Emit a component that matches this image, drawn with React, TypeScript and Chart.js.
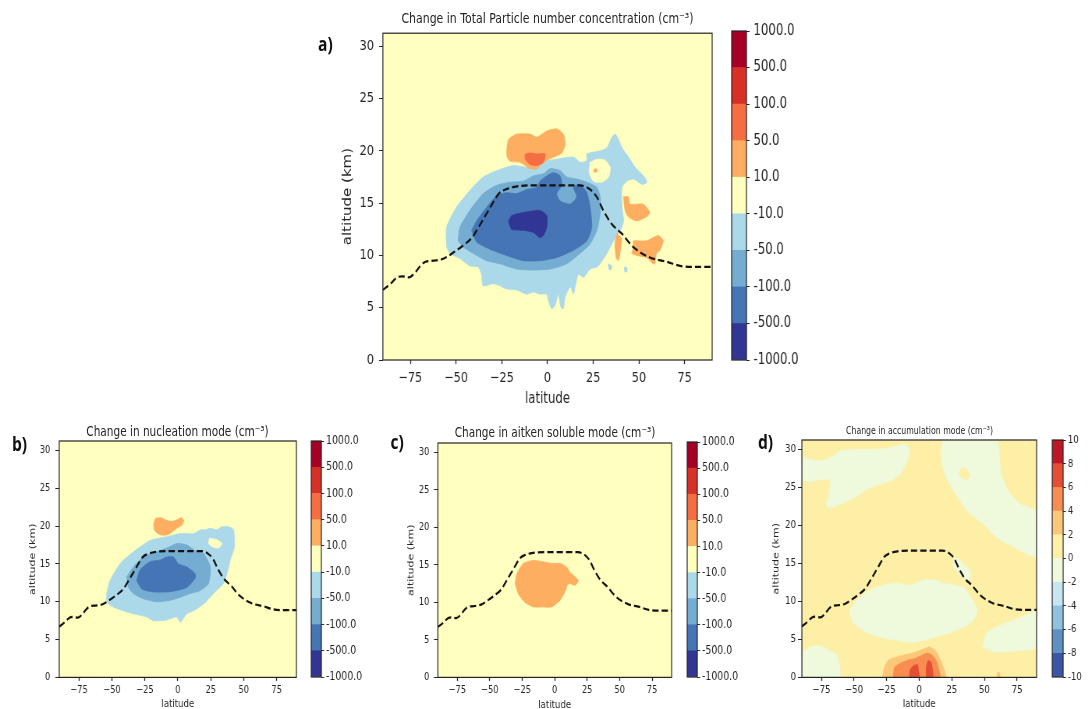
import React, { useEffect, useRef } from 'react';
import { Chart, registerables } from 'chart.js';

Chart.register(...registerables);

// horizontal compression of the whole figure (the reference is squeezed sideways)
const S = 0.78;
const X = (v: number) => v / S;
const FONT = '"DejaVu Sans", Verdana, sans-serif';
const TXT = '#262626';

// ---------------- axes ----------------
const LAT_MIN = -90;
const LAT_MAX = 90;
const ALT_MIN = 0;
const ALT_MAX = 31.25;
const LAT_TICKS = [-75, -50, -25, 0, 25, 50, 75];
const ALT_TICKS = [0, 5, 10, 15, 20, 25, 30];

// ---------------- colour levels ----------------
const NUM_LEVEL_LABELS = ['-1000.0', '-500.0', '-100.0', '-50.0', '-10.0', '10.0', '50.0', '100.0', '500.0', '1000.0'];
const NUM_COLORS = ['#313695', '#4575b4', '#74add1', '#abd9e9', '#ffffbf', '#fdae61', '#f46d43', '#d73027', '#a50026'];
const ACC_LEVEL_LABELS = ['-10', '-8', '-6', '-4', '-2', '0', '2', '4', '6', '8', '10'];
const ACC_COLORS = ['#3b56a5', '#5d91c3', '#8fc3dd', '#c5e6f0', '#eff9db', '#feefa7', '#fdc778', '#f88d52', '#e54e35', '#be1826'];

type Pt = [number, number];

// ---------------- tropopause (lat, km) ----------------
const TROPOPAUSE: Pt[] = [[-90, 6.7], [-85.8, 7.3], [-82.2, 7.9], [-79.5, 8.0], [-75.8, 7.9], [-72.2, 8.4], [-69.5, 9.0], [-66.7, 9.4], [-62.2, 9.5], [-56.7, 9.7], [-51.3, 10.3], [-45.8, 11.0], [-41.3, 11.7], [-36.7, 13.0], [-31.3, 14.6], [-26.7, 15.9], [-23.1, 16.3], [-16.7, 16.6], [-7.6, 16.7], [1.5, 16.7], [10.5, 16.7], [17.8, 16.7], [23.3, 16.3], [26.9, 15.6], [30.5, 14.3], [35.1, 13.0], [40.5, 12.1], [46.9, 10.8], [56.0, 9.8], [65.1, 9.4], [72.4, 9.0], [79.6, 8.9], [90, 8.9]];

// ---------------- panel a: total particle number ----------------
const A_LB: Pt[] = [[-55.2, 10.8], [-55.2, 12.7], [-49.8, 14.6], [-42.5, 16.2], [-35.2, 17.5], [-27.8, 18.1], [-18.7, 18.6], [-9.6, 18.4], [-4.1, 18.9], [5.0, 19.2], [14.2, 19.4], [17.8, 18.9], [21.5, 19.05], [21.5, 19.7], [28.8, 20.0], [32.5, 20.3], [35.2, 21.3], [37.0, 21.6], [38.8, 21.1], [40.7, 20.3], [44.3, 19.4], [48.0, 18.4], [52.5, 17.6], [54.4, 17.0], [51.6, 16.8], [47.1, 17.3], [43.4, 17.1], [40.7, 16.5], [40.7, 14.6], [41.6, 13.3], [39.8, 12.4], [36.1, 11.4], [32.5, 10.2], [28.8, 9.2], [27.0, 8.9], [23.3, 8.7], [19.7, 7.9], [16.9, 8.2], [15.1, 7.0], [14.2, 6.3], [12.4, 7.0], [9.6, 6.0], [8.7, 4.9], [7.2, 5.1], [5.9, 6.3], [4.1, 5.2], [2.3, 4.9], [0.5, 5.7], [-0.4, 6.3], [-4.1, 6.3], [-7.7, 6.5], [-11.4, 6.3], [-16.9, 6.7], [-22.4, 6.8], [-26.0, 7.1], [-29.7, 7.3], [-35.2, 7.1], [-36.1, 8.2], [-37.9, 8.9], [-42.5, 9.0], [-47.9, 9.7], [-53.4, 10.2]];
const A_LB_SPECK1: Pt[] = [[33.3, 9.2], [35.1, 9.0], [34.6, 8.6], [33.5, 8.7]];
const A_LB_SPECK2: Pt[] = [[42.0, 8.9], [43.6, 8.8], [43.2, 8.4], [42.1, 8.5]];
const A_HOLE: Pt[] = [[23.3, 18.9], [27.0, 19.2], [31.5, 19.1], [34.3, 18.4], [33.4, 17.5], [29.7, 17.0], [25.1, 17.1], [22.8, 17.9]];
const A_DOT: Pt[] = [[25.3, 18.2], [26.5, 18.3], [27.3, 18.1], [26.3, 17.95], [25.3, 18.0]];
const A_MB: Pt[] = [[-48.9, 11.4], [-47.9, 12.7], [-42.5, 14.3], [-35.2, 15.9], [-27.8, 16.7], [-20.5, 17.0], [-13.2, 17.1], [-7.7, 17.6], [-2.3, 17.8], [1.4, 18.3], [6.9, 18.1], [10.5, 17.5], [16.0, 17.3], [21.5, 17.0], [27.0, 16.5], [28.8, 15.6], [28.8, 14.0], [27.0, 12.4], [23.3, 11.1], [17.8, 10.2], [10.5, 9.2], [1.4, 8.7], [-7.7, 8.6], [-16.9, 8.7], [-26.0, 9.2], [-33.3, 9.5], [-40.6, 10.2], [-46.1, 10.8]];
const A_DB: Pt[] = [[-41.5, 12.4], [-38.8, 13.3], [-33.3, 14.6], [-27.8, 15.7], [-22.4, 16.0], [-16.9, 15.9], [-11.4, 16.3], [-5.9, 16.5], [-4.1, 17.1], [-0.4, 17.6], [3.2, 17.9], [6.9, 17.6], [7.8, 16.7], [5.0, 15.9], [6.9, 15.2], [12.4, 14.9], [16.0, 15.6], [14.2, 16.5], [17.8, 16.8], [21.5, 16.0], [23.3, 14.6], [24.2, 12.7], [21.5, 11.4], [14.2, 10.5], [5.0, 9.8], [-4.1, 9.5], [-13.2, 9.5], [-22.4, 10.0], [-31.5, 10.6], [-38.8, 11.3]];
const A_DD: Pt[] = [[-21.4, 13.3], [-19.6, 13.8], [-13.2, 14.1], [-4.1, 14.3], [-0.4, 13.8], [-0.4, 12.7], [-2.3, 11.9], [-4.1, 11.7], [-7.7, 12.2], [-13.2, 12.4], [-19.6, 12.5]];
const A_OR: Pt[] = [[-22.2, 20.3], [-21.3, 21.1], [-16.7, 21.6], [-9.5, 21.6], [-5.8, 21.3], [-0.4, 21.9], [5.1, 22.1], [8.7, 21.6], [9.6, 20.6], [7.8, 19.8], [3.3, 19.4], [-2.2, 18.9], [-5.8, 18.3], [-9.5, 18.3], [-14.9, 18.9], [-20.4, 19.0], [-22.2, 19.5]];
const A_OR2: Pt[] = [[-12.2, 19.7], [-9.5, 19.8], [-5.8, 19.7], [-1.3, 19.7], [-2.2, 18.9], [-5.8, 18.6], [-9.5, 18.7], [-12.2, 19.2]];
const A_ORR1: Pt[] = [[41.5, 15.6], [44.2, 15.6], [45.1, 14.9], [52.4, 14.9], [56.0, 14.1], [54.2, 13.7], [48.7, 13.3], [44.2, 13.7], [42.4, 14.3]];
const A_ORR2: Pt[] = [[46.9, 11.4], [54.2, 11.4], [60.5, 11.9], [63.3, 11.4], [61.5, 10.5], [59.6, 10.2], [58.7, 9.2], [57.8, 9.2], [54.2, 9.8], [48.7, 10.0], [46.0, 10.2], [46.9, 10.7]];
const A_ORR3: Pt[] = [[37.8, 12.1], [40.5, 11.6], [39.6, 10.2], [38.7, 9.5], [37.5, 9.8], [36.9, 11.1]];

// ---------------- panel b: nucleation mode ----------------
const B_LB: Pt[] = [[-54.0, 11.1], [-51.5, 12.8], [-43.9, 15.0], [-33.7, 16.6], [-21.0, 18.1], [-8.4, 18.6], [1.8, 19.0], [11.9, 19.0], [17.0, 19.5], [20.8, 19.5], [24.6, 19.7], [29.7, 19.5], [33.5, 19.9], [38.5, 19.9], [42.3, 19.5], [43.0, 17.3], [39.8, 15.5], [37.3, 13.7], [34.7, 12.4], [27.1, 11.1], [19.5, 9.7], [11.9, 8.8], [6.8, 8.4], [3.0, 7.5], [1.8, 7.3], [-0.8, 8.0], [-8.4, 7.6], [-18.5, 7.5], [-23.6, 8.0], [-33.7, 8.4], [-41.3, 8.8], [-48.9, 9.3], [-54.0, 10.0]];
const B_HOLE: Pt[] = [[24.1, 18.4], [29.7, 18.2], [33.5, 17.7], [31.0, 17.1], [25.9, 17.3], [23.3, 17.7]];
const B_MB: Pt[] = [[-38.8, 13.3], [-33.7, 14.6], [-26.1, 15.9], [-16.0, 16.6], [-5.8, 17.3], [-0.8, 17.7], [6.8, 17.5], [14.4, 16.6], [19.5, 16.4], [24.6, 14.6], [23.3, 12.4], [17.0, 11.5], [9.4, 11.1], [1.8, 10.6], [-5.8, 10.2], [-16.0, 10.0], [-26.1, 10.4], [-33.7, 11.1], [-37.5, 11.9]];
const B_DB: Pt[] = [[-31.2, 12.8], [-28.7, 14.2], [-21.0, 15.3], [-13.4, 15.5], [-8.4, 15.9], [-3.3, 15.9], [0.5, 15.0], [6.8, 14.6], [13.2, 13.7], [13.2, 13.1], [6.8, 11.9], [-0.8, 11.5], [-8.4, 11.3], [-18.5, 11.3], [-27.4, 11.7]];
const B_OR: Pt[] = [[-18.4, 20.2], [-17.0, 21.0], [-13.0, 21.1], [-9.0, 20.8], [-5.0, 20.6], [-1.0, 20.8], [2.5, 21.1], [4.4, 20.8], [3.5, 20.2], [0.0, 19.8], [-4.0, 19.3], [-7.0, 18.9], [-11.0, 18.8], [-15.0, 19.0], [-17.8, 19.5]];

// ---------------- panel c: aitken soluble mode ----------------
const C_OR: Pt[] = [[-30.5, 12.5], [-29.2, 13.8], [-24.1, 15.2], [-16.4, 15.6], [-8.7, 15.4], [-2.3, 15.2], [4.1, 15.2], [9.2, 14.7], [11.8, 14.0], [14.4, 13.6], [18.2, 12.9], [15.6, 12.3], [10.5, 12.5], [7.9, 11.4], [4.1, 10.3], [-2.3, 9.4], [-8.7, 9.4], [-16.4, 9.4], [-22.8, 10.0], [-27.9, 11.1]];

// ---------------- panel d: accumulation mode ----------------
const D_G1: Pt[] = [[-90, 28.9], [-76.5, 28.5], [-66.3, 29.1], [-61.2, 29.8], [-48.4, 30.0], [-35.6, 30.0], [-22.9, 30.2], [-12.6, 30.7], [-7.5, 30.2], [-8.8, 28.7], [-13.9, 26.9], [-20.3, 26.0], [-30.5, 25.4], [-40.7, 24.7], [-48.4, 23.8], [-58.6, 22.9], [-68.8, 22.3], [-71.4, 22.7], [-68.8, 24.5], [-68.8, 26.0], [-76.5, 26.0], [-84.1, 25.8], [-90, 26.0]];
const D_G2: Pt[] = [[18.0, 31.5], [58.8, 31.5], [61.4, 29.6], [62.7, 26.9], [67.8, 24.7], [76.7, 22.9], [90, 21.8], [90, 15.9], [84.4, 16.1], [71.6, 17.2], [58.8, 18.5], [48.6, 20.3], [38.4, 21.6], [30.8, 23.4], [24.4, 25.1], [19.3, 26.9], [16.7, 29.1]];
const D_ISLAND: Pt[] = [[31.0, 27.2], [33.0, 27.6], [36.0, 27.4], [38.4, 26.6], [36.5, 26.0], [33.0, 26.3], [31.0, 26.6]];
const D_G3: Pt[] = [[-53.5, 8.8], [-48.4, 10.1], [-38.2, 11.5], [-28.0, 12.1], [-17.7, 12.4], [-7.5, 12.1], [2.7, 12.8], [12.9, 12.8], [18.0, 12.4], [33.3, 11.9], [38.0, 11.0], [42.0, 9.8], [45.0, 8.8], [42.0, 7.6], [36.0, 6.8], [20.5, 5.7], [7.8, 5.1], [-5.0, 4.6], [-17.7, 4.9], [-30.5, 5.3], [-43.3, 6.2], [-51.0, 7.3]];
const D_G4: Pt[] = [[48.6, 4.0], [51.2, 5.7], [58.8, 6.6], [71.6, 7.5], [84.4, 8.4], [90, 8.8], [90, 4.0], [74.2, 3.5], [58.8, 3.3]];
const D_G5: Pt[] = [[-90, 3.1], [-84.1, 4.0], [-76.5, 4.2], [-68.8, 3.5], [-63.7, 3.1], [-61.2, 1.8], [-61.2, 0], [-90, 0]];
const D_G6: Pt[] = [[27.0, 15.7], [31.0, 15.5], [34.0, 14.8], [38.0, 14.3], [39.7, 13.5], [37.0, 12.8], [33.0, 13.2], [29.0, 14.0], [26.0, 14.8]];
const D_O1: Pt[] = [[-28, 0], [-27, 1.2], [-23.5, 2.3], [-15, 2.8], [-5, 3.2], [3, 3.7], [8, 4.0], [13, 3.4], [17, 2.0], [20, 0.5], [20.5, 0]];
const D_O1B: Pt[] = [[59.5, 0], [60, 0.6], [61.5, 0.6], [62, 0]];
const D_O2: Pt[] = [[-20, 0], [-19, 1.3], [-14, 1.9], [-8, 2.3], [-3, 2.5], [2, 2.9], [6, 3.2], [10, 2.9], [13, 2.2], [15, 1.0], [16, 0]];
const D_R1: Pt[] = [[-7.5, 0], [-7, 1.0], [-4.5, 1.5], [-1.5, 1.7], [-0.5, 0.8], [0, 0]];
const D_R2: Pt[] = [[5.3, 0], [5.5, 1.4], [7, 2.2], [9, 2.0], [10.3, 0.9], [10.3, 0]];

type Layer = { pts: Pt[]; level: number };

const A_LAYERS: Layer[] = [
  { pts: A_LB, level: 3 }, { pts: A_LB_SPECK1, level: 3 }, { pts: A_LB_SPECK2, level: 3 },
  { pts: A_HOLE, level: 4 }, { pts: A_DOT, level: 5 },
  { pts: A_MB, level: 2 }, { pts: A_DB, level: 1 }, { pts: A_DD, level: 0 },
  { pts: A_OR, level: 5 }, { pts: A_OR2, level: 6 },
  { pts: A_ORR1, level: 5 }, { pts: A_ORR2, level: 5 }, { pts: A_ORR3, level: 5 },
];
const B_LAYERS: Layer[] = [
  { pts: B_LB, level: 3 }, { pts: B_HOLE, level: 4 }, { pts: B_MB, level: 2 }, { pts: B_DB, level: 1 }, { pts: B_OR, level: 5 },
];
const C_LAYERS: Layer[] = [{ pts: C_OR, level: 5 }];
const D_LAYERS: Layer[] = [
  { pts: D_G1, level: 4 }, { pts: D_G2, level: 4 }, { pts: D_ISLAND, level: 5 }, { pts: D_G3, level: 4 },
  { pts: D_G4, level: 4 }, { pts: D_G5, level: 4 }, { pts: D_G6, level: 4 },
  { pts: D_O1, level: 6 }, { pts: D_O1B, level: 6 }, { pts: D_O2, level: 7 }, { pts: D_R1, level: 8 }, { pts: D_R2, level: 8 },
];

// ---------------- geometry ----------------
type Box = { l: number; r: number; t: number; b: number };
type PanelGeom = {
  plot: Box; tickFont: number; labelFont: number; yLabelCX: number; xLabelCY: number;
  yTickLen: number; yTickPad: number; xTickLen: number; xTickPad: number;
};
type CbGeom = { box: Box; font: number; tickLen: number; pad: number; axisW: number };

const M = 14;

const GEOM_A: PanelGeom = { plot: { l: 383, r: 712, t: 32, b: 360 }, tickFont: 14.5, labelFont: 15, yLabelCX: 348, xLabelCY: 399, yTickLen: 5, yTickPad: 6.5, xTickLen: 4, xTickPad: 5.6 };
const GEOM_B: PanelGeom = { plot: { l: 59, r: 296, t: 441, b: 677 }, tickFont: 10.5, labelFont: 11, yLabelCX: 33, xLabelCY: 704, yTickLen: 5, yTickPad: 6.5, xTickLen: 3.5, xTickPad: 2.7 };
const GEOM_C: PanelGeom = { plot: { l: 438, r: 672, t: 443, b: 677 }, tickFont: 10.5, labelFont: 11, yLabelCX: 411.7, xLabelCY: 705, yTickLen: 5, yTickPad: 6, xTickLen: 3.5, xTickPad: 2.7 };
const GEOM_D: PanelGeom = { plot: { l: 802, r: 1037, t: 440, b: 677 }, tickFont: 11, labelFont: 11, yLabelCX: 776.7, xLabelCY: 704, yTickLen: 5, yTickPad: 2.5, xTickLen: 3.5, xTickPad: 2.7 };

const CB_A: CbGeom = { box: { l: 732, r: 747, t: 31, b: 360 }, font: 15, tickLen: 4, pad: 5, axisW: 90 };
const CB_B: CbGeom = { box: { l: 311, r: 321, t: 441, b: 677 }, font: 12, tickLen: 3.5, pad: 2.5, axisW: 70 };
const CB_C: CbGeom = { box: { l: 687, r: 697, t: 442, b: 677 }, font: 12, tickLen: 3.5, pad: 2.5, axisW: 70 };
const CB_D: CbGeom = { box: { l: 1052, r: 1063, t: 440, b: 677 }, font: 11, tickLen: 3.5, pad: 2.5, axisW: 50 };

function panelRect(g: PanelGeom) {
  const lh = g.labelFont * 1.2;
  const yw = X(g.plot.l) - X(g.yLabelCX) + lh / 2;
  const xh = g.xLabelCY + lh / 2 - g.plot.b;
  const pw = X(g.plot.r) - X(g.plot.l);
  const ph = g.plot.b - g.plot.t;
  return { left: X(g.plot.l) - yw - M, top: g.plot.t - M, width: Math.round(M + yw + pw + M), height: Math.round(M + ph + xh + 2), yw, xh };
}

function cbRect(c: CbGeom) {
  return { left: X(c.box.l) - 4, top: c.box.t - M, width: Math.round(4 + X(c.box.r) - X(c.box.l) + c.axisW), height: Math.round(c.box.b - c.box.t + 2 * M) };
}

const fmt = (v: number) => (v < 0 ? '\u2212' + Math.abs(v) : String(v));

const framePlugin = {
  id: 'frame',
  afterDatasetsDraw(chart: any) {
    const { ctx, chartArea: a } = chart;
    ctx.save();
    ctx.strokeStyle = '#222';
    ctx.lineWidth = 1.2;
    ctx.strokeRect(a.left, a.top, a.right - a.left, a.bottom - a.top);
    ctx.restore();
  },
};

function bgPlugin(color: string) {
  return {
    id: 'bg',
    beforeDatasetsDraw(chart: any) {
      const { ctx, chartArea: a } = chart;
      ctx.save();
      ctx.fillStyle = color;
      ctx.fillRect(a.left, a.top, a.right - a.left, a.bottom - a.top);
      ctx.restore();
    },
  };
}

function buildContour(canvas: HTMLCanvasElement, g: PanelGeom, layers: Layer[], colors: string[], bgLevel: number) {
  const r = panelRect(g);
  const n = layers.length;
  const datasets: any[] = layers.map((ly, i) => ({
    data: [...ly.pts, ly.pts[0]].map(([x, y]) => ({ x, y })),
    showLine: true,
    fill: 'shape',
    backgroundColor: colors[ly.level],
    borderColor: colors[ly.level],
    borderWidth: 0.8,
    pointRadius: 0,
    pointHoverRadius: 0,
    tension: 0.2,
    order: n - i + 1,
  }));
  datasets.push({
    data: TROPOPAUSE.map(([x, y]) => ({ x, y })),
    showLine: true,
    fill: false,
    borderColor: '#111',
    borderWidth: 2.2,
    borderDash: [8, 4],
    pointRadius: 0,
    pointHoverRadius: 0,
    cubicInterpolationMode: 'monotone',
    order: 0,
  });
  const tickFont = { family: FONT, size: g.tickFont };
  const labelFont = { family: FONT, size: g.labelFont };
  return new Chart(canvas, {
    type: 'scatter',
    data: { datasets },
    options: {
      responsive: false,
      animation: false,
      events: [],
      layout: { padding: { left: M, top: M, right: M, bottom: 2 } },
      plugins: { legend: { display: false }, tooltip: { enabled: false } },
      scales: {
        x: {
          type: 'linear', min: LAT_MIN, max: LAT_MAX,
          afterBuildTicks: (s: any) => { s.ticks = LAT_TICKS.map((v) => ({ value: v })); },
          ticks: { font: tickFont, color: TXT, padding: g.xTickPad, maxRotation: 0, autoSkip: false, callback: (v: any) => fmt(Number(v)) },
          grid: { display: true, drawOnChartArea: false, drawTicks: true, tickLength: g.xTickLen, color: TXT, tickColor: TXT, tickWidth: 1.3 },
          border: { display: false },
          title: { display: true, text: 'latitude', font: labelFont, color: TXT, padding: 0 },
          afterFit: (s: any) => { s.height = r.xh; },
        },
        y: {
          type: 'linear', min: ALT_MIN, max: ALT_MAX,
          afterBuildTicks: (s: any) => { s.ticks = ALT_TICKS.map((v) => ({ value: v })); },
          ticks: { font: tickFont, color: TXT, padding: g.yTickPad, autoSkip: false, callback: (v: any) => fmt(Number(v)) },
          grid: { display: true, drawOnChartArea: false, drawTicks: true, tickLength: g.yTickLen, color: TXT, tickColor: TXT, tickWidth: 1 },
          border: { display: false },
          title: { display: true, text: 'altitude (km)', font: labelFont, color: TXT, padding: 0 },
          afterFit: (s: any) => { s.width = r.yw; },
        },
      },
    } as any,
    plugins: [bgPlugin(colors[bgLevel]), framePlugin],
  });
}

function buildColorbar(canvas: HTMLCanvasElement, c: CbGeom, colors: string[], labels: string[]) {
  return new Chart(canvas, {
    type: 'bar',
    data: {
      labels: ['cb'],
      datasets: colors.map((col, i) => ({
        data: [[i, i + 1]],
        backgroundColor: col,
        borderWidth: 0,
        barPercentage: 1,
        categoryPercentage: 1,
        grouped: false,
      })),
    } as any,
    options: {
      responsive: false,
      animation: false,
      events: [],
      layout: { padding: { top: M, bottom: M, left: 4, right: 0 } },
      plugins: { legend: { display: false }, tooltip: { enabled: false } },
      scales: {
        x: { display: false },
        y: {
          position: 'right', min: 0, max: colors.length,
          afterBuildTicks: (s: any) => { s.ticks = labels.map((_, i) => ({ value: i })); },
          ticks: { font: { family: FONT, size: c.font }, color: TXT, padding: c.pad, autoSkip: false, callback: (v: any) => labels[Number(v)] },
          grid: { display: true, drawOnChartArea: false, drawTicks: true, tickLength: c.tickLen, color: TXT, tickColor: TXT },
          border: { display: false },
          afterFit: (s: any) => { s.width = c.axisW; },
        },
      },
    } as any,
    plugins: [framePlugin],
  });
}

function ChartCanvas({ rect, build }: { rect: { left: number; top: number; width: number; height: number }; build: (c: HTMLCanvasElement) => Chart }) {
  const ref = useRef<HTMLCanvasElement>(null);
  useEffect(() => {
    const chart = build(ref.current as HTMLCanvasElement);
    return () => chart.destroy();
  }, []);
  return (
    <canvas
      ref={ref}
      width={rect.width}
      height={rect.height}
      style={{ position: 'absolute', left: rect.left, top: rect.top, width: rect.width, height: rect.height }}
    />
  );
}

function Panel({ g, cb, layers, colors, bgLevel, cbLabels }: { g: PanelGeom; cb: CbGeom; layers: Layer[]; colors: string[]; bgLevel: number; cbLabels: string[] }) {
  return (
    <>
      <ChartCanvas rect={panelRect(g)} build={(c) => buildContour(c, g, layers, colors, bgLevel)} />
      <ChartCanvas rect={cbRect(cb)} build={(c) => buildColorbar(c, cb, colors, cbLabels)} />
    </>
  );
}

function Title({ cx, cy, size, text }: { cx: number; cy: number; size: number; text: string }) {
  const lh = size * 1.2;
  return (
    <div style={{ position: 'absolute', left: X(cx) - 400, width: 800, top: cy - lh / 2, lineHeight: `${lh}px`, fontSize: size, fontFamily: FONT, color: TXT, textAlign: 'center', whiteSpace: 'nowrap' }}>
      {text}
    </div>
  );
}

function Tag({ x, cy, text }: { x: number; cy: number; text: string }) {
  const size = 20;
  const lh = size * 1.2;
  return (
    <div style={{ position: 'absolute', left: X(x), top: cy - lh / 2, lineHeight: `${lh}px`, fontSize: size, fontWeight: 700, fontFamily: '"Open Sans", "DejaVu Sans", sans-serif', color: '#111', whiteSpace: 'nowrap' }}>
      {text}
    </div>
  );
}

export default function App() {
  return (
    <div style={{ position: 'fixed', left: 0, top: 0, width: 1091, height: 709, overflow: 'hidden', background: '#fff' }}>
      <div style={{ position: 'absolute', left: 0, top: 0, width: X(1091), height: 709, transform: `scaleX(${S})`, transformOrigin: '0 0' }}>
        <Panel g={GEOM_A} cb={CB_A} layers={A_LAYERS} colors={NUM_COLORS} bgLevel={4} cbLabels={NUM_LEVEL_LABELS} />
        <Panel g={GEOM_B} cb={CB_B} layers={B_LAYERS} colors={NUM_COLORS} bgLevel={4} cbLabels={NUM_LEVEL_LABELS} />
        <Panel g={GEOM_C} cb={CB_C} layers={C_LAYERS} colors={NUM_COLORS} bgLevel={4} cbLabels={NUM_LEVEL_LABELS} />
        <Panel g={GEOM_D} cb={CB_D} layers={D_LAYERS} colors={ACC_COLORS} bgLevel={5} cbLabels={ACC_LEVEL_LABELS} />
        <Title cx={547.5} cy={18} size={14} text="Change in Total Particle number concentration (cm⁻³)" />
        <Title cx={177.5} cy={431} size={13.5} text="Change in nucleation mode (cm⁻³)" />
        <Title cx={555} cy={432.5} size={13.5} text="Change in aitken soluble mode (cm⁻³)" />
        <Title cx={919.5} cy={431} size={10} text="Change in accumulation mode (cm⁻³)" />
        <Tag x={318} cy={43.5} text="a)" />
        <Tag x={12} cy={444} text="b)" />
        <Tag x={390.5} cy={442} text="c)" />
        <Tag x={758} cy={441.5} text="d)" />
      </div>
    </div>
  );
}
